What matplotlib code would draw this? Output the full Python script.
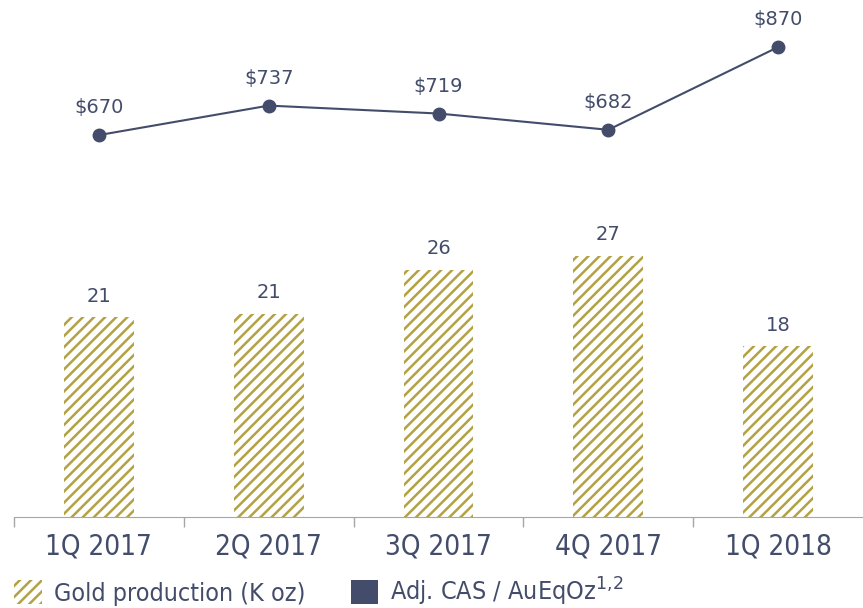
import matplotlib.pyplot as plt
from matplotlib.patches import Patch

quarters = ['1Q 2017', '2Q 2017', '3Q 2017', '4Q 2017', '1Q 2018']
gold_koz = [21, 21.4, 26, 27.5, 18]
gold_labels = ['21', '21', '26', '27', '18']
cas = [670, 737, 719, 682, 870]

gold = '#b3a244'
navy = '#434d6b'

plt.rcParams['hatch.linewidth'] = 1.8

fig = plt.figure(figsize=(8.63, 6.08), dpi=100)
ax = fig.add_axes([14 / 863, 1 - 517 / 608, 1 - 14 / 863, 517 / 608])
x = range(len(quarters))
bars = ax.bar(x, gold_koz, width=0.41, color='white', edgecolor=gold, linewidth=0, hatch='///')
for xi, v, lab in zip(x, gold_koz, gold_labels):
    ax.text(xi, v + 1.2, lab, ha='center', va='bottom', color=navy, fontsize=14,
            family='DejaVu Sans')
ax.set_xlim(-0.5, 4.5)
ax.set_ylim(0, 54.4)
ax.set_yticks([])
for s in ['top', 'right', 'left']:
    ax.spines[s].set_visible(False)
ax.spines['bottom'].set_color('#a6a6a6')
ax.set_xticks([-0.5, 0.5, 1.5, 2.5, 3.5], minor=False)
ax.set_xticklabels([])
ax.tick_params(axis='x', length=7, color='#a6a6a6', width=1)
ax.set_xticks(list(x), minor=True)
ax.set_xticklabels(quarters, minor=True, fontsize=20, color=navy,
                   family='DejaVu Sans', stretch='condensed')
ax.tick_params(axis='x', which='minor', length=0, pad=11)

ax2 = ax.twinx()
ax2.plot(x, cas, color=navy, lw=1.5, marker='o', ms=9)
for xi, v in zip(x, cas):
    ax2.text(xi, v + 40, '${}'.format(v), ha='center', va='bottom', color=navy,
             fontsize=14, family='DejaVu Sans')
ax2.set_ylim(-198, 977)
ax2.set_yticks([])
for s in ['top', 'right', 'left', 'bottom']:
    ax2.spines[s].set_visible(False)

handles = [Patch(facecolor='white', edgecolor=gold, linewidth=0, hatch='///'),
           Patch(facecolor=navy, edgecolor='none')]
fig.legend(handles, ['Gold production (K oz)', 'Adj. CAS / AuEqOz$^{1{,}2}$'],
           loc='lower left', bbox_to_anchor=(14 / 863, 0.0), ncol=2, frameon=False,
           prop={'family': 'DejaVu Sans', 'stretch': 'condensed', 'size': 18},
           labelcolor=navy, handlelength=1.1, handleheight=1.1, handletextpad=0.5,
           columnspacing=1.8, borderpad=0, borderaxespad=0)

fig.savefig('out.png', dpi=100)
